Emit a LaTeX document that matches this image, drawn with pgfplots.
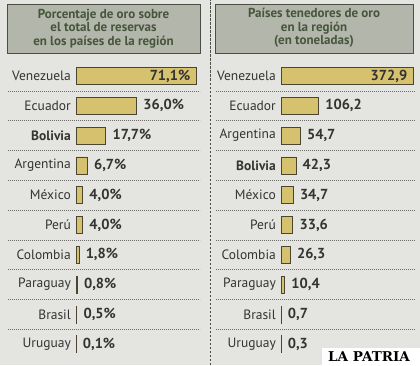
\documentclass[border=0pt]{standalone}
\usepackage{pgfplots}
\pgfplotsset{compat=1.18}
\usepackage{fontspec}
\setmainfont{PT Sans}
\newfontfamily\slab{DejaVu Serif}
\definecolor{bg}{HTML}{E4E4E0}
\definecolor{titlefill}{HTML}{B3B6AA}
\definecolor{titleborder}{HTML}{4A4E44}
\definecolor{titletext}{HTML}{46563C}
\definecolor{barfill}{HTML}{D6C26E}
\definecolor{barborder}{HTML}{4A4530}
\definecolor{labeltext}{HTML}{333333}
\definecolor{sep}{HTML}{6A6A66}
\begin{document}
\begin{tikzpicture}[x=1pt,y=1pt]
\fill[bg] (0,0) rectangle (420,365);
\useasboundingbox (0,0) rectangle (420,365);
% title boxes
\draw[titleborder, fill=titlefill, line width=0.8pt] (7,312) rectangle (200,361);
\node[align=center, font=\bfseries\fontsize{13}{13.5}\selectfont, text=titletext] at (103.5,336.5) {Porcentaje de oro sobre\\el total de reservas\\en los países de la región};
\draw[titleborder, fill=titlefill, line width=0.8pt] (215,312) rectangle (413,361);
\node[align=center, font=\bfseries\fontsize{13}{13.5}\selectfont, text=titletext] at (314,337) {Países tenedores de oro\\en la región\\(en toneladas)};
% separators
\foreach \k in {0,...,8} {
  \pgfmathsetmacro{\yy}{365-(76+29.8*(\k+0.5))}
  \draw[sep, line width=0.6pt, dash pattern=on 0.8pt off 1.2pt] (8,\yy) -- (200,\yy);
  \draw[sep, line width=0.6pt, dash pattern=on 0.8pt off 1.2pt] (216,\yy) -- (415,\yy);
}
% divider
\draw[titleborder, line width=0.8pt, dash pattern=on 2.5pt off 1.5pt] (210,0) -- (210,365);

\pgfplotsset{panel/.style={
  scale only axis, xbar, ymin=-0.5, ymax=9.5, y dir=reverse,
  height=298pt, bar width=17pt, bar shift=0pt,
  ytick={0,...,9}, xtick=\empty, axis line style={draw=none},
  major tick length=0pt, clip=false,
  yticklabel style={font=\fontsize{13.5}{13}\selectfont, text=labeltext, inner sep=0pt, xshift=-5pt},
  point meta=explicit symbolic,
}}

\begin{axis}[panel, at={(76pt,5.9pt)}, anchor=south west,
  width=124pt, xmin=0, xmax=73.47,
  yticklabels={Venezuela,Ecuador,\textbf{Bolivia},Argentina,México,Perú,Colombia,Paraguay,Brasil,Uruguay}]
\addplot[draw=barborder, fill=barfill, line width=0.8pt,
  nodes near coords, every node near coord/.append style={font=\bfseries\fontsize{14.5}{13}\selectfont, text=labeltext, anchor=east, xshift=-2pt}]
  coordinates {(71.1,0) [{71,1\%}]};
\addplot[draw=barborder, fill=barfill, line width=0.8pt,
  nodes near coords, every node near coord/.append style={font=\bfseries\fontsize{14.5}{13}\selectfont, text=labeltext, anchor=west, xshift=3pt}]
  coordinates {(36.0,1) [{36,0\%}] (17.7,2) [{17,7\%}] (6.7,3) [{6,7\%}] (4.0,4) [{4,0\%}] (4.0,5) [{4,0\%}] (1.8,6) [{1,8\%}] (0.8,7) [{0,8\%}] (0.5,8) [{0,5\%}] (0.1,9) [{0,1\%}]};
\end{axis}

\begin{axis}[panel, at={(281pt,5.9pt)}, anchor=south west,
  width=134pt, xmin=0, xmax=378.5,
  yticklabels={Venezuela,Ecuador,Argentina,\textbf{Bolivia},México,Perú,Colombia,Paraguay,Brasil,Uruguay}]
\addplot[draw=barborder, fill=barfill, line width=0.8pt,
  nodes near coords, every node near coord/.append style={font=\bfseries\fontsize{14.5}{13}\selectfont, text=labeltext, anchor=east, xshift=-2pt}]
  coordinates {(372.9,0) [{372,9}]};
\addplot[draw=barborder, fill=barfill, line width=0.8pt,
  nodes near coords, every node near coord/.append style={font=\bfseries\fontsize{14.5}{13}\selectfont, text=labeltext, anchor=west, xshift=3pt}]
  coordinates {(106.2,1) [{106,2}] (54.7,2) [{54,7}] (42.3,3) [{42,3}] (34.7,4) [{34,7}] (33.6,5) [{33,6}] (26.3,6) [{26,3}] (10.4,7) [{10,4}] (0.7,8) [{0,7}] (0.3,9) [{0,3}]};
\end{axis}

% logo
\fill[white] (322,0) rectangle (420,17);
\node[font=\slab\bfseries\fontsize{13.5}{14}\selectfont, anchor=south west, inner sep=0pt, text=black] at (328,3) {LA PATRIA};
\end{tikzpicture}
\end{document}
